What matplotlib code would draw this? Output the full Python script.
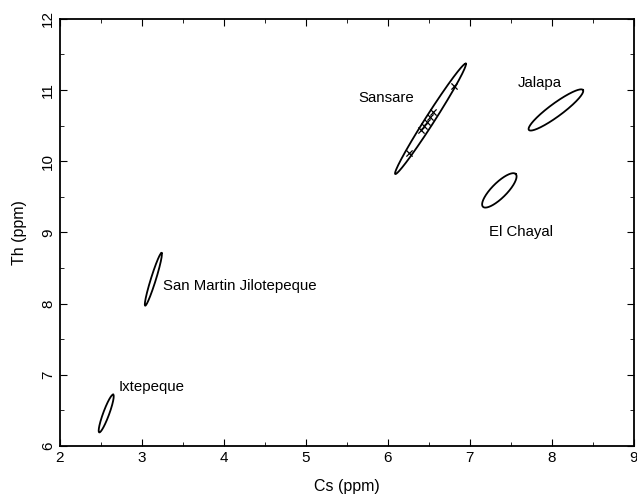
import numpy as np
import matplotlib.pyplot as plt
from matplotlib.ticker import MultipleLocator

plt.rcParams['font.family'] = ['Liberation Sans', 'DejaVu Sans']

# source ellipses: major axis end points (Cs, Th) and minor width in pixels
sources = ['Sansare', 'Jalapa', 'El Chayal', 'San Martin Jilotepeque', 'Ixtepeque']
end_a = [(6.09, 9.82), (7.72, 10.44), (7.16, 9.36), (3.04, 7.97), (2.48, 6.19)]
end_b = [(6.95, 11.37), (8.38, 11.00), (7.56, 9.82), (3.24, 8.71), (2.65, 6.72)]
minor_px = [9, 13, 15, 5, 6]

# label positions
label_xy = [(5.98, 10.89), (7.85, 11.10), (7.63, 9.01), (3.26, 8.24), (2.72, 6.83)]
label_ha = ['center', 'center', 'center', 'left', 'left']

# Sansare artifacts
art_cs = [6.26, 6.40, 6.44, 6.48, 6.51, 6.55, 6.81]
art_th = [10.11, 10.44, 10.50, 10.55, 10.62, 10.69, 11.06]

fig = plt.figure(figsize=(6.37, 4.96), dpi=100)
ax = fig.add_axes([0.094, 0.101, 0.901, 0.861])
ax.set_xlim(2, 9)
ax.set_ylim(6, 12)

t = np.linspace(0, 2 * np.pi, 300)
for a, b, w in zip(end_a, end_b, minor_px):
    pa = ax.transData.transform(a)
    pb = ax.transData.transform(b)
    c = (pa + pb) / 2
    u = (pb - pa) / 2
    n = np.array([-u[1], u[0]]) / np.hypot(*u) * w / 2
    pts = c + np.outer(np.cos(t), u) + np.outer(np.sin(t), n)
    d = ax.transData.inverted().transform(pts)
    ax.plot(d[:, 0], d[:, 1], color='black', lw=1.3)

ax.scatter(art_cs, art_th, marker='x', s=20, color='black', lw=0.9)

for name, (lx, ly), ha in zip(sources, label_xy, label_ha):
    ax.text(lx, ly, name, ha=ha, va='center', fontsize=10.8)

ax.xaxis.set_major_locator(MultipleLocator(1))
ax.xaxis.set_minor_locator(MultipleLocator(0.5))
ax.yaxis.set_major_locator(MultipleLocator(1))
ax.yaxis.set_minor_locator(MultipleLocator(0.5))
ax.tick_params(which='both', direction='in', top=True, right=True, labelsize=11)
ax.tick_params(which='major', length=5)
ax.tick_params(which='minor', length=3)
for lab in ax.get_yticklabels():
    lab.set_rotation(90)
    lab.set_va('center')
for s in ax.spines.values():
    s.set_linewidth(1.3)

ax.set_xlabel('Cs (ppm)', fontsize=11.5, labelpad=10)
ax.set_ylabel('Th (ppm)', fontsize=11.5, labelpad=10)

fig.savefig('out.png', dpi=100)
